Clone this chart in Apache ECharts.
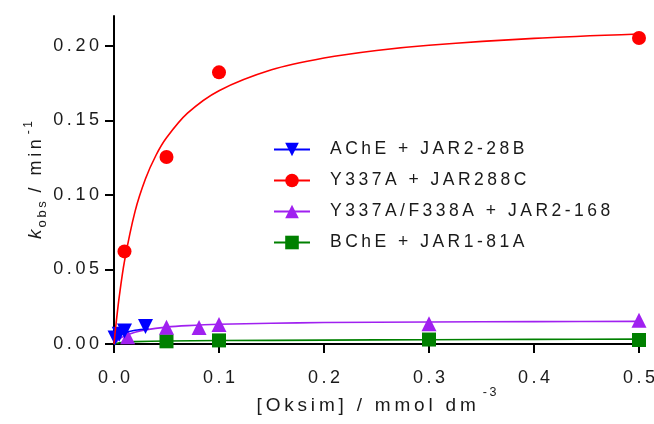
<!DOCTYPE html>
<html><head><meta charset="utf-8">
<script src="https://cdn.jsdelivr.net/npm/echarts@6/dist/echarts.min.js"></script>
<style>html,body{margin:0;padding:0;background:#fff}#c{width:654px;height:424px}</style>
</head><body><div id="c"></div>
<script>
const names = ['AChE + JAR2-28B', 'Y337A + JAR288C', 'Y337A/F338A + JAR2-168', 'BChE + JAR1-81A'];
const xTicks = [0, 0.1, 0.2, 0.3, 0.4, 0.5];
const yTicks = [0, 0.05, 0.10, 0.15, 0.20];
// measured points [x, kobs]
const achePts = [[0.001, 0.004], [0.005, 0.0065], [0.01, 0.0087], [0.03, 0.0117]];
const y337aPts = [[0.01, 0.0621], [0.05, 0.1254], [0.1, 0.1822], [0.5, 0.2052]];
const dblPts = [[0.013, 0.0049], [0.05, 0.0113], [0.081, 0.011], [0.1, 0.013], [0.3, 0.0135], [0.5, 0.016]];
const bchePts = [[0.05, 0.0018], [0.1, 0.0024], [0.3, 0.003], [0.5, 0.0027]];
// fitted curves
const acheFit = [[0, 0], [0.002, 0.003], [0.005, 0.0055], [0.01, 0.0075], [0.02, 0.0092], [0.033, 0.0102]];
const y337aFit = [[0, 0], [0.001, 0.0072], [0.002, 0.0139], [0.005, 0.0318], [0.01, 0.0556], [0.02, 0.0888], [0.03, 0.1108], [0.04, 0.1266], [0.05, 0.1383], [0.07, 0.1548], [0.1, 0.1699], [0.15, 0.1839], [0.2, 0.1918], [0.25, 0.1969], [0.3, 0.2004], [0.4, 0.2050], [0.5, 0.2079]];
const dblFit = [[0, 0], [0.005, 0.0032], [0.01, 0.0053], [0.02, 0.0079], [0.03, 0.0095], [0.05, 0.0113], [0.07, 0.0123], [0.1, 0.0132], [0.15, 0.0139], [0.2, 0.0144], [0.3, 0.0148], [0.4, 0.0150], [0.5, 0.0152]];
const bcheFit = [[0, 0], [0.005, 0.0008], [0.01, 0.0012], [0.02, 0.0016], [0.05, 0.002], [0.1, 0.0023], [0.2, 0.0026], [0.3, 0.0029], [0.4, 0.0031], [0.5, 0.0033]];

const sp = s => s.split('').join('\u2009');
const colors = ['#0000ff', '#ff0000', '#a020f0', '#008000'];
const symbols = ['triangle', 'circle', 'triangle', 'rect'];
const rots = [180, 0, 0, 0];
const sizes = [15, 14, 15, 14];
const pts = [achePts, y337aPts, dblPts, bchePts];
const fits = [acheFit, y337aFit, dblFit, bcheFit];
const zs = [4, 5, 3, 2];

const series = [];
names.forEach((n, i) => {
  series.push({
    name: n, type: 'line', data: fits[i], smooth: 0.3, showSymbol: false,
    symbol: symbols[i], symbolRotate: rots[i], symbolSize: sizes[i],
    lineStyle: { color: colors[i], width: 1.6 }, itemStyle: { color: colors[i] },
    z: zs[i], silent: true, clip: false
  });
  series.push({
    name: n, type: 'scatter', data: pts[i], symbol: symbols[i], symbolRotate: rots[i],
    symbolSize: sizes[i], itemStyle: { color: colors[i], opacity: 1 }, z: zs[i], clip: false
  });
});

const chart = echarts.init(document.getElementById('c'), null, { renderer: 'canvas' });
const txt = '#1a1a1a';
chart.setOption({
  animation: false,
  textStyle: { fontFamily: 'Liberation Sans, Arial, sans-serif' },
  grid: { left: 114, right: 15, top: 16, bottom: 80, outerBoundsMode: 'none', containLabel: false },
  legend: {
    data: names, orient: 'vertical', left: 273, top: 140, padding: 0, itemWidth: 36, itemHeight: 17, itemGap: 12,
    formatter: n => sp(n),
    textStyle: { fontSize: 17.5, color: txt, padding: [0, 0, 0, 15], lineHeight: 19 }
  },
  xAxis: {
    type: 'value', min: 0, max: 0.5, interval: 0.1,
    axisLine: { onZero: false, lineStyle: { color: '#000', width: 2 } },
    axisTick: { length: 9, lineStyle: { color: '#000', width: 2 } },
    splitLine: { show: false },
    axisLabel: { fontSize: 18, color: txt, margin: 25, formatter: v => sp(v.toFixed(1)), customValues: xTicks },
    name: '{a|' + sp('[Oksim] / mmol dm') + '}{s|' + sp('-3') + '}',
    nameLocation: 'middle', nameGap: 42, nameMoveOverlap: false,
    nameTextStyle: {
      rich: {
        a: { fontSize: 19, color: txt, verticalAlign: 'middle', lineHeight: 40 },
        s: { fontSize: 12.5, color: txt, verticalAlign: 'top', lineHeight: 12, padding: [0, 0, 0, 7] }
      }
    }
  },
  yAxis: {
    type: 'value', min: 0, max: 0.22, interval: 0.05,
    axisLine: { onZero: false, lineStyle: { color: '#000', width: 2 } },
    axisTick: { length: 9, lineStyle: { color: '#000', width: 2 }, customValues: yTicks },
    splitLine: { show: false },
    axisLabel: { fontSize: 18, color: txt, margin: 15, formatter: v => sp(v.toFixed(2)), customValues: yTicks },
    name: '{k|k}{o|' + sp('obs') + '}{a|' + sp(' / min') + '}{s|' + sp('-1') + '}',
    nameLocation: 'middle', nameGap: 65, nameRotate: 90, nameMoveOverlap: false,
    nameTextStyle: {
      rich: {
        k: { fontSize: 19, fontStyle: 'italic', color: txt, verticalAlign: 'middle', lineHeight: 26 },
        o: { fontSize: 13, color: txt, verticalAlign: 'bottom', lineHeight: 26, padding: [0, 0, 0, 2] },
        a: { fontSize: 18, color: txt, verticalAlign: 'middle', lineHeight: 26 },
        s: { fontSize: 12, color: txt, verticalAlign: 'top', lineHeight: 26, padding: [0, 0, 0, 5] }
      }
    }
  },
  series: series
});
</script></body></html>
